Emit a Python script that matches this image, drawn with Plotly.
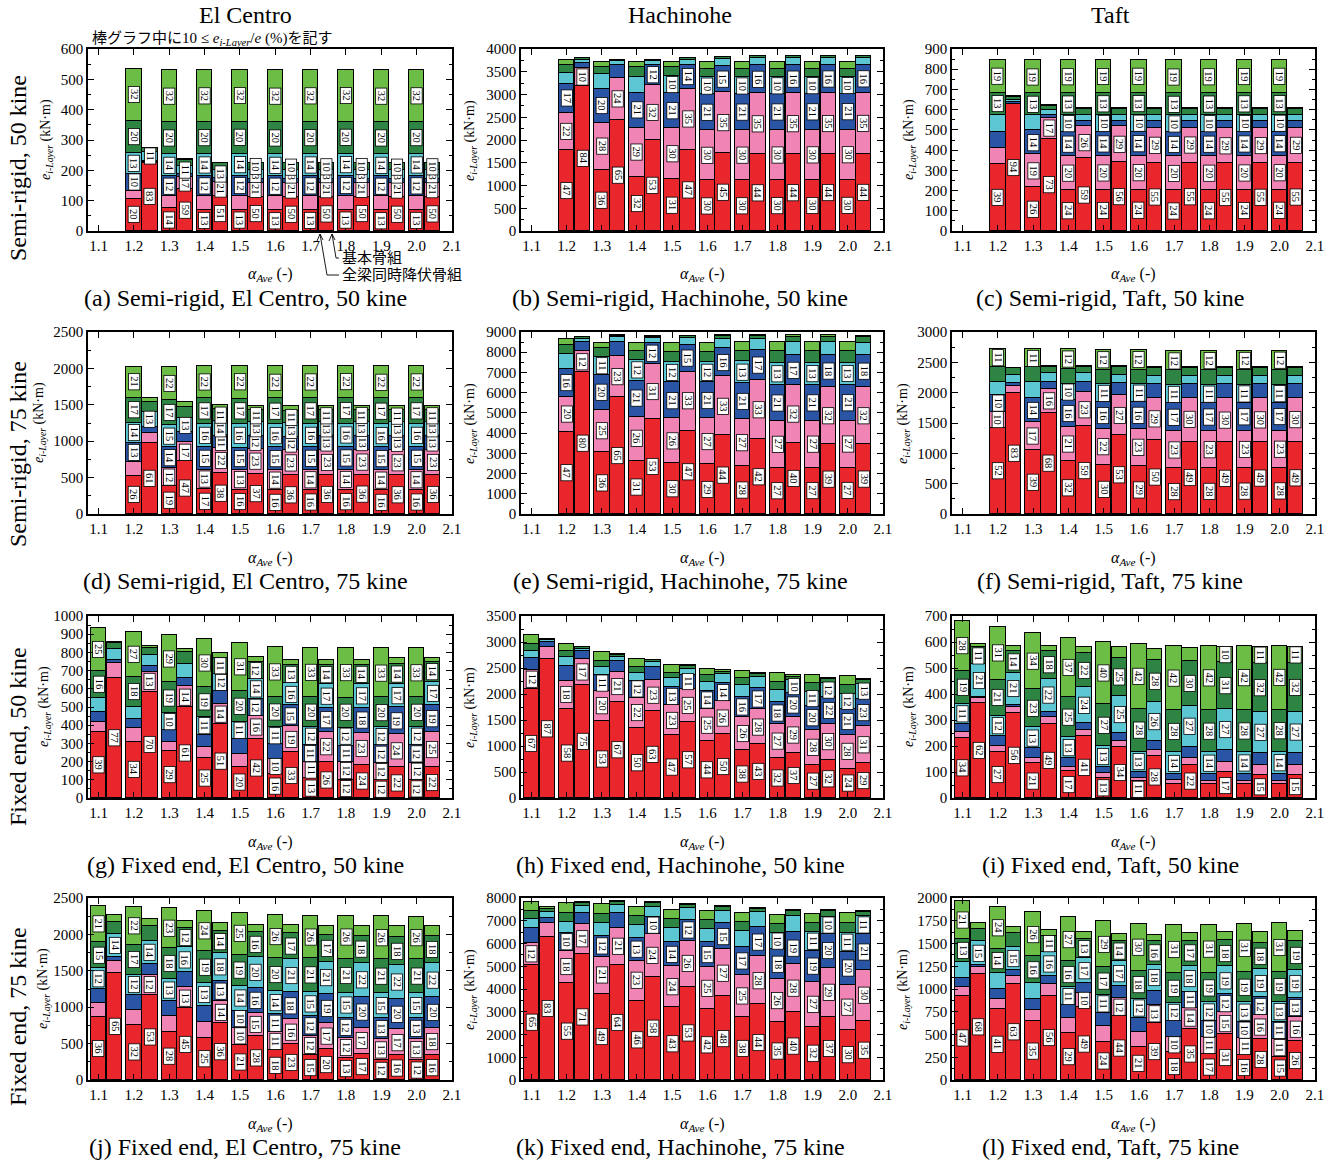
import plotly.graph_objects as go

W, H = 1338, 1160

# storey colours, layer 1 (bottom) to layer 6 (top)
LAYER_COLORS = ["#E8262C", "#F084B4", "#2A55A5", "#5CC6D2", "#2E8442", "#6CBD45"]

ALPHA_SR = [1.2, 1.3, 1.4, 1.5, 1.6, 1.7, 1.8, 1.9, 2.0]
ALPHA_FE = [1.1, 1.2, 1.3, 1.4, 1.5, 1.6, 1.7, 1.8, 1.9, 2.0]
X_TICKS = [1.1, 1.2, 1.3, 1.4, 1.5, 1.6, 1.7, 1.8, 1.9, 2.0, 2.1]
X_TICK_TEXT = ["1.1", "1.2", "1.3", "1.4", "1.5", "1.6", "1.7", "1.8", "1.9", "2.0", "2.1"]

# ---- (a) Semi-rigid, El Centro, 50 kine -------------------------------------
# totals e (kN·m) and storey shares e_i/e (%) [1..6 layer]
a_allbeam_total = [534, 530, 530, 530, 530, 530, 530, 530, 530]
a_allbeam_pct = [[20, 5, 10, 13, 20, 32], [14, 8, 12, 14, 20, 32], [13, 9, 12, 14, 20, 32],
                 [13, 9, 12, 14, 20, 32], [13, 9, 12, 14, 20, 32], [13, 9, 12, 14, 20, 32],
                 [13, 9, 12, 14, 20, 32], [13, 9, 12, 14, 20, 32], [13, 9, 12, 14, 20, 32]]
a_basic_total = [272, 236, 225, 225, 225, 225, 225, 225, 225]
a_basic_pct = [[83, 1, 1, 11, 4, 0], [59, 17, 4, 11, 8, 1], [51, 21, 5, 13, 9, 1],
               [50, 21, 5, 13, 10, 1], [50, 21, 5, 13, 10, 1], [50, 21, 5, 13, 10, 1],
               [50, 21, 5, 13, 10, 1], [50, 21, 5, 13, 10, 1], [50, 21, 5, 13, 10, 1]]

# ---- (b) Semi-rigid, Hachinohe, 50 kine -------------------------------------
b_allbeam_total = [3767, 3716, 3709, 3709, 3709, 3709, 3709, 3709, 3709]
b_allbeam_pct = [[47, 22, 17, 6, 5, 3], [36, 28, 20, 9, 4, 3], [32, 29, 21, 9, 6, 3],
                 [31, 30, 21, 10, 5, 3], [30, 30, 21, 10, 5, 4], [30, 30, 21, 10, 5, 4],
                 [30, 30, 21, 10, 5, 4], [30, 30, 21, 10, 5, 4], [30, 30, 21, 10, 5, 4]]
b_basic_total = [3803, 3767, 3767, 3803, 3825, 3840, 3840, 3840, 3840]
b_basic_pct = [[84, 10, 3, 2, 1, 0], [65, 24, 8, 2, 1, 0], [53, 32, 12, 2, 1, 0],
               [47, 35, 14, 3, 1, 0], [45, 35, 15, 4, 1, 0], [44, 35, 16, 4, 1, 0],
               [44, 35, 16, 4, 1, 0], [44, 35, 16, 4, 1, 0], [44, 35, 16, 4, 1, 0]]

# ---- (c) Semi-rigid, Taft, 50 kine ------------------------------------------
c_allbeam_total = [844, 844, 844, 844, 844, 844, 844, 844, 844]
c_allbeam_pct = [[39, 9.6, 9.7, 9.7, 13, 19], [26, 19, 14, 9, 13, 19], [24, 20, 14, 10, 13, 19],
                 [24, 20, 14, 10, 13, 19], [24, 20, 14, 10, 13, 19], [24, 20, 14, 10, 13, 19],
                 [24, 20, 14, 10, 13, 19], [24, 20, 14, 10, 13, 19], [24, 20, 14, 10, 13, 19]]
c_basic_total = [666, 622, 609, 609, 609, 609, 609, 609, 609]
c_basic_pct = [[94, 0.5, 1, 2, 2, 0.5], [73, 17, 2.5, 3.5, 3, 1], [59, 26, 4, 5, 5, 1],
               [56, 29, 4, 5, 5, 1], [55, 29, 5, 5, 5, 1], [55, 29, 5, 5, 5, 1],
               [55, 29, 5, 5, 5, 1], [55, 29, 5, 5, 5, 1], [55, 29, 5, 5, 5, 1]]

# ---- (d) Semi-rigid, El Centro, 75 kine -------------------------------------
d_allbeam_total = [2023, 2023, 2036, 2036, 2036, 2036, 2036, 2036, 2036]
d_allbeam_pct = [[26, 9, 13, 14, 17, 21], [19, 12.4, 14, 15.2, 17, 22.4], [17, 13, 15, 16, 17, 22],
                 [16.2, 13.3, 15.2, 16.1, 17, 22.2], [16, 14, 15, 16, 17, 22], [16, 14, 15, 16, 17, 22],
                 [16, 14, 15, 16, 17, 22], [16, 14, 15, 16, 17, 22], [16, 14, 15, 16, 17, 22]]
d_basic_total = [1591, 1536, 1500, 1486, 1486, 1490, 1490, 1490, 1490]
d_basic_pct = [[61, 9, 5, 13, 9, 3], [47, 17, 9, 13, 9.5, 4.5], [38, 22, 11, 14, 11, 4],
               [37, 23, 12, 13, 11, 4], [36, 23, 12, 13, 11, 5], [36, 23, 13, 13, 11, 4],
               [36, 23, 13, 13, 11, 4], [36, 23, 13, 13, 11, 4], [36, 23, 13, 13, 11, 4]]

# ---- (e) Semi-rigid, Hachinohe, 75 kine -------------------------------------
e_allbeam_total = [8653, 8456, 8456, 8456, 8456, 8505, 8505, 8505, 8505]
e_allbeam_pct = [[47, 20, 16, 8.5, 5, 3.5], [36, 25, 20, 11, 5, 3], [31, 26, 21, 12, 5.5, 4.5],
                 [30, 26, 21, 12, 6, 5], [29, 27, 21, 12, 6, 5], [28, 27, 21, 13, 6, 5],
                 [27, 27, 21, 13, 7, 5], [27, 27, 21, 13, 7, 5], [27, 27, 21, 13, 7, 5]]
e_basic_total = [8752, 8868, 8818, 8785, 8835, 8835, 8835, 8835, 8818]
e_basic_pct = [[80, 12, 5, 2, 1, 0], [65, 23, 8, 2.5, 1, 0.5], [53, 31, 12, 2.5, 1, 0.5],
               [47, 33, 15, 4, 1, 0], [44, 33, 16, 5, 1.5, 0.5], [42, 33, 17, 6, 1.5, 0.5],
               [40, 32, 17, 7, 3, 1], [39, 32, 18, 7, 3, 1], [39, 32, 18, 7, 3, 1]]

# ---- (f) Semi-rigid, Taft, 75 kine ------------------------------------------
f_allbeam_total = [2721, 2721, 2721, 2704, 2704, 2693, 2693, 2693, 2693]
f_allbeam_pct = [[52, 10, 10, 8, 9, 11], [39, 17, 14, 9.8, 9.2, 11], [32, 21, 16, 10, 9, 12],
                 [30, 22, 16, 11, 9, 12], [29, 23, 16, 11, 9, 12], [28, 23, 17, 11, 9, 12],
                 [28, 23, 17, 11, 9, 12], [28, 23, 17, 11, 9, 12], [28, 23, 17, 11, 9, 12]]
f_basic_total = [2406, 2445, 2445, 2445, 2428, 2428, 2428, 2428, 2428]
f_basic_pct = [[83, 4.5, 2, 6, 4.5, 0], [68, 16, 5, 6, 4, 1], [59, 23, 7, 6, 4, 1],
               [53, 27, 8, 6, 5, 1], [50, 29, 9, 6, 5, 1], [49, 30, 9, 6, 5, 1],
               [49, 30, 9, 6, 5, 1], [49, 30, 9, 6, 5, 1], [49, 30, 9, 6, 5, 1]]

# ---- (g) Fixed end, El Centro, 50 kine --------------------------------------
g_allbeam_total = [932, 910, 895, 872, 850, 831, 826, 822, 822, 822]
g_allbeam_pct = [[39, 6, 5.5, 8.5, 16, 25], [34, 8, 5.5, 7.5, 18, 27], [29, 5.5, 7.5, 10, 19, 29],
                 [25, 7, 8, 11, 19, 30], [20, 8.5, 9.5, 11, 20, 31], [16, 10, 9.6, 11.4, 20, 33],
                 [13, 11, 11, 12, 20, 33], [12, 12, 11, 12, 20, 33], [12, 11.6, 11.6, 12, 20, 32.8],
                 [12, 11.6, 11.6, 12, 20, 32.8]]
g_basic_total = [859, 835, 817, 794, 776, 761, 761, 761, 767, 771]
g_basic_pct = [[77, 9.4, 1.6, 7, 4, 1], [70, 13, 4, 7, 5, 1], [61, 14, 6, 9, 8, 2],
               [51, 14, 9, 12, 11, 3], [42, 16, 12, 14, 12, 4], [33, 19, 15, 16, 13, 4],
               [26, 22, 17, 17, 14, 4], [24, 23, 18, 17, 14, 4], [22, 24, 19, 17, 14, 4],
               [22, 25, 19, 17, 14, 3]]

# ---- (h) Fixed end, Hachinohe, 50 kine --------------------------------------
h_allbeam_total = [3128, 2967, 2807, 2678, 2563, 2486, 2434, 2402, 2370, 2344]
h_allbeam_pct = [[67, 12, 7, 4.5, 4, 5.5], [58, 18, 9.8, 5.5, 4, 4.7], [53, 20, 11, 6, 4, 6],
                 [50, 22, 12, 5.5, 4.5, 6], [47, 23, 13, 7, 4, 6], [44, 25, 14, 7, 5, 5],
                 [38, 26, 16, 9, 5.5, 5.5], [32, 27, 18, 9.5, 6, 7.5], [27, 28, 20, 11, 7, 7],
                 [24, 28, 21, 12, 7.5, 7.5]]
h_basic_total = [3064, 2903, 2762, 2646, 2550, 2453, 2402, 2357, 2306, 2293]
h_basic_pct = [[87, 8, 3, 1, 0.7, 0.3], [75, 17, 5.5, 1.5, 1, 0], [67, 21, 7.5, 2.5, 1.5, 0.5],
               [63, 23, 9.5, 3, 1.5, 0], [57, 25, 11, 4.5, 2, 0.5], [50, 26, 14, 7, 2, 1],
               [43, 28, 17, 9, 2, 1], [37, 29, 20, 10, 3, 1], [32, 30, 22, 12, 3, 1],
               [29, 31, 23, 13, 3, 1]]

# ---- (i) Fixed end, Taft, 50 kine -------------------------------------------
i_allbeam_total = [681, 659, 636, 617, 601, 591, 586, 586, 586, 586]
i_allbeam_pct = [[34, 3, 5, 11, 19, 28], [27, 3.5, 5.5, 12, 21, 31], [21, 3, 6, 13, 23, 34],
                 [17, 2.5, 5.5, 13, 25, 37], [13, 3, 4, 13, 27, 40], [11, 2, 4, 13, 28, 42],
                 [9.5, 2, 4.5, 14, 28, 42], [9, 2, 5, 14, 28, 42], [9, 2, 5, 14, 28, 42],
                 [9, 2, 5, 14, 28, 42]]
i_basic_total = [591, 584, 584, 582, 579, 575, 578, 582, 582, 582]
i_basic_pct = [[62, 3, 1, 21, 11, 2], [56, 4, 1.5, 21, 14, 3.5], [49, 4.5, 3, 22, 18, 3.5],
               [41, 4, 4.5, 24, 22, 4.5], [34, 4, 5, 25, 25, 7], [28, 4, 6, 26, 28, 8],
               [22, 4.5, 7.5, 27, 30, 9], [17, 6.5, 8.5, 27, 31, 10], [15, 7, 8, 27, 32, 11],
               [15, 7, 8, 27, 32, 11]]

# ---- (j) Fixed end, El Centro, 75 kine --------------------------------------
j_allbeam_total = [2395, 2373, 2359, 2327, 2295, 2268, 2250, 2250, 2250, 2245]
j_allbeam_pct = [[36, 8, 8, 12, 15, 21], [32, 8.5, 8.5, 12, 17, 22], [28, 9, 9, 13, 18, 23],
                 [25, 9, 9.8, 13.2, 19, 24], [21, 10.3, 10.3, 14.4, 19, 25], [18, 11, 11, 14, 20, 26],
                 [15, 12, 12, 14.8, 20.6, 25.6], [13.4, 12.3, 12.3, 15, 21, 26], [12, 13, 13, 15, 21, 26],
                 [12, 13, 13, 15, 21, 26]]
j_basic_total = [2268, 2214, 2191, 2159, 2136, 2132, 2114, 2109, 2109, 2109]
j_basic_pct = [[65, 7, 2.5, 14, 7, 4.5], [53, 12, 7, 14, 9.5, 4.5], [45, 13, 9.5, 16, 12, 4.5],
               [36, 14, 13, 18, 14, 5], [28, 15, 16, 20, 16, 5], [23, 16, 18, 21, 17, 5],
               [20, 17, 19, 21, 17, 6], [17, 17, 20, 22, 18, 6], [16, 17, 20, 22, 18, 7],
               [16, 18, 20, 22, 18, 6]]

# ---- (k) Fixed end, Hachinohe, 75 kine --------------------------------------
k_allbeam_total = [7809, 7780, 7736, 7589, 7486, 7413, 7325, 7266, 7296, 7325]
k_allbeam_pct = [[65, 12, 8.5, 5, 4.7, 4.8], [55, 18, 10, 6, 5.5, 5.5], [49, 21, 12, 7, 5.5, 5.5],
                 [46, 23, 13, 7.5, 5.5, 5], [43, 24, 14, 8, 5.5, 5.5], [42, 25, 15, 7.5, 5.5, 5],
                 [38, 25, 17, 9.5, 5.5, 5], [35, 26, 18, 10, 5.5, 5.5], [32, 27, 19, 11, 5.5, 5.5],
                 [30, 27, 20, 11, 6, 6]]
k_basic_total = [7589, 7809, 7883, 7809, 7736, 7662, 7545, 7486, 7486, 7442]
k_basic_pct = [[83, 8, 3, 3.5, 1.5, 1], [71, 17, 6, 4, 1.5, 0.5], [64, 21, 8, 4.5, 1.5, 1],
               [58, 24, 10, 5.5, 2, 0.5], [53, 26, 12, 6.5, 2, 0.5], [48, 27, 15, 7, 2, 1],
               [44, 28, 17, 9, 1.5, 0.5], [40, 28, 19, 9.5, 2.5, 1], [37, 29, 20, 10, 3, 1],
               [35, 30, 21, 11, 2, 1]]

# ---- (l) Fixed end, Taft, 75 kine -------------------------------------------
l_allbeam_total = [1963, 1897, 1842, 1786, 1742, 1713, 1705, 1705, 1713, 1720]
l_allbeam_pct = [[47, 5, 5, 9, 13, 21], [41, 6, 6, 9, 14, 24], [35, 7, 6.2, 9.8, 16, 26],
                 [29, 9, 8, 11, 16, 27], [24, 9.8, 8.5, 11.4, 17.3, 29], [21, 9.7, 9.3, 12, 18, 30],
                 [18, 10, 9.9, 12, 19, 31.1], [17, 11, 10, 12, 19, 31], [16, 11, 10, 13, 19, 31],
                 [15, 11, 11, 13, 19, 31]]
l_basic_total = [1720, 1676, 1650, 1628, 1602, 1595, 1610, 1621, 1621, 1639]
l_basic_pct = [[68, 4, 1.5, 15, 8, 3.5], [63, 5.5, 3.5, 15, 9.5, 3.5], [56, 8, 5, 16, 11, 4],
               [49, 10, 6.5, 17, 13, 4.5], [44, 12, 8.5, 17, 14, 4.5], [39, 13, 9.5, 18, 16, 4.5],
               [35, 14, 11, 18, 17, 5], [31, 15, 12, 19, 18, 5], [28, 16, 12, 19, 18, 7],
               [26, 16, 13, 19, 19, 7]]

# ---- panel set-up -----------------------------------------------------------
COL_X = [(88, 452), (521, 883), (952, 1315)]      # plot frames, px
ROW_Y = [(49, 231), (332, 514), (616, 798), (898, 1080)]
COL_CENTER = [245, 680, 1110]
ROW_NAMES = ["Semi-rigid, 50 kine", "Semi-rigid, 75 kine", "Fixed end, 50 kine", "Fixed end, 75 kine"]
ROW_NAME_Y = [168, 454, 737, 1017]
COL_NAMES = ["El Centro", "Hachinohe", "Taft"]

PANELS = [
    ("a", "Semi-rigid, El Centro, 50 kine", ALPHA_SR, a_allbeam_total, a_allbeam_pct, a_basic_total, a_basic_pct, 600, 100, 50, 46),
    ("b", "Semi-rigid, Hachinohe, 50 kine", ALPHA_SR, b_allbeam_total, b_allbeam_pct, b_basic_total, b_basic_pct, 4000, 500, 250, 470),
    ("c", "Semi-rigid, Taft, 50 kine", ALPHA_SR, c_allbeam_total, c_allbeam_pct, c_basic_total, c_basic_pct, 900, 100, 50, 909),
    ("d", "Semi-rigid, El Centro, 75 kine", ALPHA_SR, d_allbeam_total, d_allbeam_pct, d_basic_total, d_basic_pct, 2500, 500, 250, 39),
    ("e", "Semi-rigid, Hachinohe, 75 kine", ALPHA_SR, e_allbeam_total, e_allbeam_pct, e_basic_total, e_basic_pct, 9000, 1000, 500, 470),
    ("f", "Semi-rigid, Taft, 75 kine", ALPHA_SR, f_allbeam_total, f_allbeam_pct, f_basic_total, f_basic_pct, 3000, 500, 250, 903),
    ("g", "Fixed end, El Centro, 50 kine", ALPHA_FE, g_allbeam_total, g_allbeam_pct, g_basic_total, g_basic_pct, 1000, 100, 50, 44),
    ("h", "Fixed end, Hachinohe, 50 kine", ALPHA_FE, h_allbeam_total, h_allbeam_pct, h_basic_total, h_basic_pct, 3500, 500, 250, 470),
    ("i", "Fixed end, Taft, 50 kine", ALPHA_FE, i_allbeam_total, i_allbeam_pct, i_basic_total, i_basic_pct, 700, 100, 50, 909),
    ("j", "Fixed end, El Centro, 75 kine", ALPHA_FE, j_allbeam_total, j_allbeam_pct, j_basic_total, j_basic_pct, 2500, 500, 250, 43),
    ("k", "Fixed end, Hachinohe, 75 kine", ALPHA_FE, k_allbeam_total, k_allbeam_pct, k_basic_total, k_basic_pct, 8000, 1000, 500, 470),
    ("l", "Fixed end, Taft, 75 kine", ALPHA_FE, l_allbeam_total, l_allbeam_pct, l_basic_total, l_basic_pct, 2000, 250, 125, 903),
]

SERIF = "Liberation Serif, Times New Roman, serif"
CJK = "Liberation Serif, Noto Sans CJK JP, sans-serif"
BAR_W = 0.044
PAIR_OFFSET = 0.045


def px_x(v):
    return v / W


def px_y(v):
    return 1 - v / H


def paper_text(xp, yp, text, size, family=SERIF, angle=0, xanchor="center"):
    return dict(x=px_x(xp), y=px_y(yp), xref="paper", yref="paper", text=text,
                showarrow=False, textangle=angle, xanchor=xanchor, yanchor="middle",
                font=dict(family=family, size=size, color="black"))


fig = go.Figure()
annotations = []
layout_axes = {}

for idx, (key, title, alpha, tot_l, pct_l, tot_r, pct_r, ymax, dtick, minor, ytitle_x) in enumerate(PANELS):
    n = idx + 1
    row, col = divmod(idx, 3)
    x0, x1 = COL_X[col]
    y0, y1 = ROW_Y[row]
    xa, ya = f"x{n}", f"y{n}"

    for side, (totals, pcts) in enumerate(((tot_l, pct_l), (tot_r, pct_r))):
        xs = [a + side * PAIR_OFFSET for a in alpha]
        base = [0.0] * len(alpha)
        for k in range(6):
            ys = [t * p[k] / 100 for t, p in zip(totals, pcts)]
            fig.add_trace(go.Bar(
                x=xs, y=ys, width=BAR_W, xaxis=xa, yaxis=ya,
                marker=dict(color=LAYER_COLORS[k], line=dict(color="black", width=1.1)),
                hoverinfo="skip", showlegend=False,
            ))
            for j, (xv, yv, p) in enumerate(zip(xs, ys, pcts)):
                if p[k] >= 10:
                    annotations.append(dict(
                        x=xv, y=base[j] + yv / 2, xref=xa, yref=ya, text=f"{p[k]:.0f}",
                        showarrow=False, textangle=90, xanchor="center", yanchor="middle",
                        width=15, height=10, align="center", valign="middle",
                        font=dict(family=SERIF, size=10.5, color="black"),
                        bgcolor="white", bordercolor="black", borderwidth=0.8, borderpad=0,
                    ))
                base[j] += yv

    axis_common = dict(
        showline=True, linecolor="black", linewidth=1.5, mirror="allticks",
        ticks="inside", tickcolor="black", tickwidth=1, showgrid=False, zeroline=False,
        automargin=False, tickfont=dict(family=SERIF, size=15, color="black"),
    )
    layout_axes[f"xaxis{n}"] = dict(
        domain=[px_x(x0), px_x(x1)], anchor=ya, range=[1.07, 2.1001],
        tickvals=X_TICKS, ticktext=X_TICK_TEXT, ticklen=6, **axis_common,
    )
    layout_axes[f"yaxis{n}"] = dict(
        domain=[px_y(y1), px_y(y0)], anchor=xa, range=[0, ymax], tick0=0, dtick=dtick, ticklen=6,
        minor=dict(dtick=minor, ticks="inside", ticklen=3, tickcolor="black", showgrid=False),
        **axis_common,
    )

    # axis titles and caption
    annotations.append(paper_text((x0 + x1) / 2, y1 + 44, "<i>α</i><sub><i>Ave</i></sub> (-)", 16))
    annotations.append(paper_text(ytitle_x, (y0 + y1) / 2,
                                  "<i>e</i><sub><i>i-Layer</i></sub> (kN·m)", 14, angle=-90))
    annotations.append(paper_text(COL_CENTER[col], y1 + 67, f"({key}) {title}", 24))

for c, name in enumerate(COL_NAMES):
    annotations.append(paper_text(COL_CENTER[c], 15, name, 24))
for r, name in enumerate(ROW_NAMES):
    annotations.append(paper_text(18, ROW_NAME_Y[r], name, 24, angle=-90))

# note and frame-type keys in panel (a)
annotations.append(paper_text(
    90, 39, "棒グラフ中に10 ≤ <i>e</i><sub><i>i-Layer</i></sub>/<i>e</i> (%)を記す",
    15, family=CJK, xanchor="left"))
annotations.append(paper_text(340, 258, "基本骨組", 15, family=CJK, xanchor="left"))
annotations.append(paper_text(340, 275, "全梁同時降伏骨組", 15, family=CJK, xanchor="left"))

for tip, bend in (((332, 234), (336, 258)), ((320, 234), (327, 275))):
    fig.add_shape(type="line", xref="paper", yref="paper",
                  x0=px_x(tip[0]), y0=px_y(tip[1]), x1=px_x(bend[0]), y1=px_y(bend[1]),
                  line=dict(color="black", width=0.9))
    fig.add_shape(type="line", xref="paper", yref="paper",
                  x0=px_x(bend[0]), y0=px_y(bend[1]), x1=px_x(339), y1=px_y(bend[1]),
                  line=dict(color="black", width=0.9))
    # small open arrow head at the tip
    fig.add_shape(type="path", xref="paper", yref="paper",
                  path=(f"M {px_x(tip[0] - 3)},{px_y(tip[1] + 7)} L {px_x(tip[0])},{px_y(tip[1])} "
                        f"L {px_x(tip[0] + 3)},{px_y(tip[1] + 6)}"),
                  line=dict(color="black", width=0.9))

fig.update_layout(
    width=W, height=H, autosize=False, margin=dict(l=0, r=0, t=0, b=0, pad=0),
    paper_bgcolor="white", plot_bgcolor="white",
    barmode="stack", bargap=0, showlegend=False,
    annotations=annotations, **layout_axes,
)

fig.write_html("out.html")
